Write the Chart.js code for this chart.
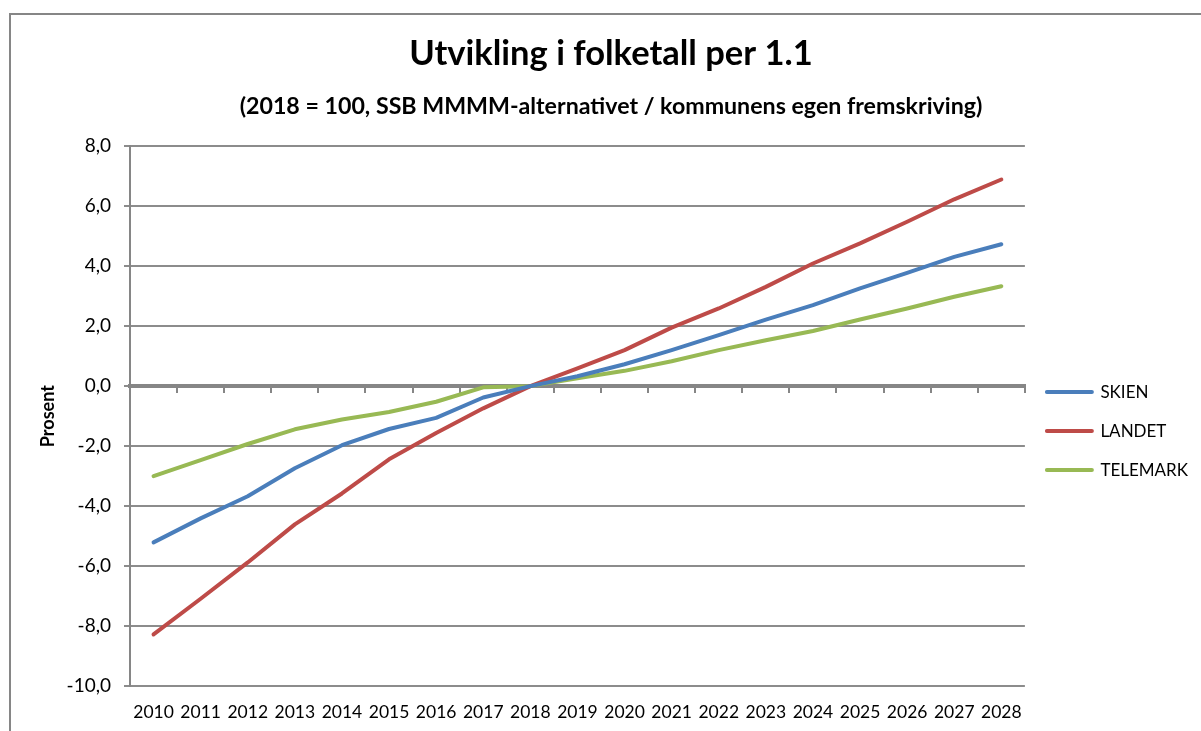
<!DOCTYPE html>
<html>
<head>
<meta charset="utf-8">
<script src="https://cdn.jsdelivr.net/npm/chart.js@4"></script>
<style>
  html, body { margin: 0; padding: 0; background: #fff; }
  #wrap { position: relative; width: 1201px; height: 731px; }
</style>
</head>
<body>
<div id="wrap"><canvas id="c"></canvas></div>
<script>
const years = ['2010','2011','2012','2013','2014','2015','2016','2017','2018','2019','2020','2021','2022','2023','2024','2025','2026','2027','2028'];
const skien    = [-5.21, -4.41, -3.67, -2.74, -1.97, -1.43, -1.06, -0.38, 0.00, 0.33, 0.73, 1.20, 1.70, 2.22, 2.70, 3.26, 3.78, 4.31, 4.73];
const landet   = [-8.28, -7.09, -5.88, -4.61, -3.58, -2.44, -1.56, -0.74, 0.00, 0.59, 1.20, 1.95, 2.59, 3.31, 4.09, 4.76, 5.48, 6.23, 6.89];
const telemark = [-3.00, -2.47, -1.93, -1.44, -1.11, -0.86, -0.52, -0.04, 0.00, 0.26, 0.51, 0.83, 1.20, 1.53, 1.84, 2.22, 2.59, 2.98, 3.33];
const seriesNames = ['SKIEN', 'LANDET', 'TELEMARK'];
const titleText = 'Utvikling i folketall per 1.1';
const subtitleText = '(2018 = 100, SSB MMMM-alternativet / kommunens egen fremskriving)';
const yTitle = 'Prosent';
const yMin = -10, yMax = 8, yStep = 2;

const FONT = 'Lato, "Open Sans", sans-serif';
const GRID = '#8c8c8c';
const AXIS = '#868686';

const framePlugin = {
  id: 'frame',
  beforeDraw(chart) {
    const ctx = chart.ctx;
    ctx.save();
    ctx.strokeStyle = AXIS;
    ctx.lineWidth = 2;
    ctx.beginPath();
    ctx.moveTo(10, chart.height + 5);
    ctx.lineTo(10, 14);
    ctx.lineTo(chart.width + 5, 14);
    ctx.stroke();
    ctx.restore();
  }
};

function ds(label, data, color) {
  return {
    label, data,
    borderColor: color, backgroundColor: color,
    borderWidth: 4, pointRadius: 0, pointHoverRadius: 0,
    tension: 0, borderCapStyle: 'round', borderJoinStyle: 'round',
    xAxisID: 'x', yAxisID: 'y'
  };
}

new Chart(document.getElementById('c'), {
  type: 'line',
  data: {
    labels: years,
    datasets: [
      ds(seriesNames[0], skien, '#4A7EBB'),
      ds(seriesNames[1], landet, '#BE4B48'),
      ds(seriesNames[2], telemark, '#98B954')
    ]
  },
  plugins: [framePlugin],
  options: {
    responsive: true,
    maintainAspectRatio: false,
    animation: false,
    events: [],
    layout: { padding: { left: 24, right: 3, top: 0, bottom: 6 } },
    plugins: {
      tooltip: { enabled: false },
      title: {
        display: true, text: titleText, color: '#000',
        font: { family: FONT, size: 34.5, weight: 'bold' },
        padding: { top: 33, bottom: 18 }
      },
      subtitle: {
        display: true, text: subtitleText, color: '#000',
        font: { family: FONT, size: 23.2, weight: 'bold' },
        padding: { top: 0, bottom: 26 }
      },
      legend: {
        position: 'right', align: 'center', fullSize: false,
        title: { display: true, text: ' ', font: { family: FONT, size: 10 }, padding: 9 },
        labels: {
          color: '#000', font: { family: FONT, size: 17 },
          boxWidth: 45, boxHeight: 0, padding: 22
        }
      }
    },
    scales: {
      x: {
        type: 'category', position: 'bottom', offset: true,
        afterFit(scale) { scale.height = 39; },
        grid: { display: false, drawTicks: false },
        border: { display: false },
        ticks: { color: '#000', font: { family: FONT, size: 17.5 }, padding: 16, maxRotation: 0, autoSkip: false }
      },
      x2: {
        type: 'category', position: { y: 0 }, offset: true,
        afterFit(scale) { scale.height = 0; },
        grid: { display: true, offset: true, drawOnChartArea: false, drawTicks: true, tickLength: 5, color: AXIS, lineWidth: 2 },
        border: { display: true, color: AXIS, width: 4 },
        ticks: { display: false }
      },
      y: {
        type: 'linear', position: 'left', min: yMin, max: yMax,
        afterFit(scale) { scale.width = 106; },
        grid: { color: GRID, lineWidth: 2, drawTicks: true, tickLength: 6 },
        border: { display: true, color: AXIS, width: 2 },
        ticks: {
          stepSize: yStep, color: '#000', padding: 13,
          font: { family: FONT, size: 19 },
          callback: (v) => v.toFixed(1).replace('.', ',')
        },
        title: {
          display: true, text: yTitle, color: '#000',
          font: { family: FONT, size: 18, weight: 'bold' },
          padding: { top: 13, bottom: 0 }
        }
      }
    }
  }
});
</script>
</body>
</html>
